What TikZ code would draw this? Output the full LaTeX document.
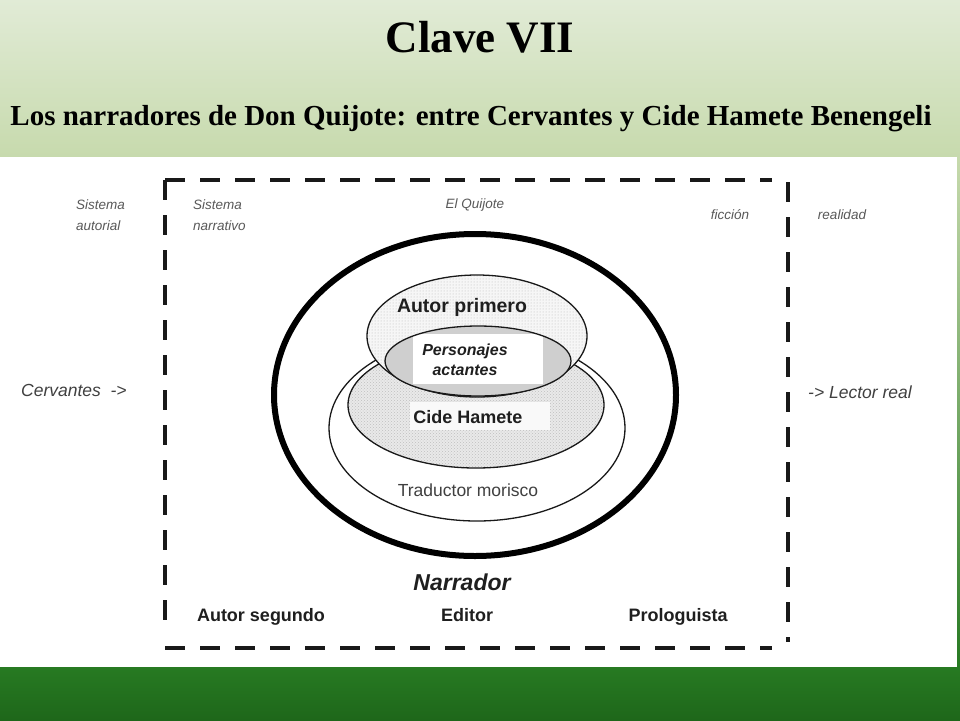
\documentclass[tikz,border=0pt]{standalone}
\usepackage{fontspec}
\setmainfont{Liberation Serif}
\setsansfont{Liberation Sans}
\usetikzlibrary{positioning,patterns}

\begin{document}
\begin{tikzpicture}[x=1pt, y=-1pt,
      font=\sffamily,
      ringline/.style={draw=black!90, line width=1.3pt},
      dashline/.style={draw=black!90, line width=3.5pt, dash pattern=on 20pt off 15pt},
      namelbl/.style={font=\sffamily\bfseries\fontsize{18}{20}\selectfont, text=black!88, inner sep=1pt},
      sidelbl/.style={font=\sffamily\itshape\fontsize{13.5}{21}\selectfont, text=black!65, inner sep=0pt, align=left},
      biglbl/.style={font=\sffamily\itshape\fontsize{17.5}{20}\selectfont, text=black!75, inner sep=0pt},
    ]
    \definecolor{headtop}{RGB}{225,235,214}
    \definecolor{headbot}{RGB}{199,218,173}
    \definecolor{bandtop}{RGB}{39,122,34}
    \definecolor{bandbot}{RGB}{30,103,26}

    \useasboundingbox (0,0) rectangle (960,720);
    \shade[top color=headtop, bottom color=headbot] (0,0) rectangle (960,157);
    \fill[white] (0,157) rectangle (957,667);
    \shade[top color=headbot, bottom color=bandtop] (957,157) rectangle (960,667);
    \shade[top color=bandtop, bottom color=bandbot] (0,667) rectangle (960,720);

    \node[font=\rmfamily\bfseries\fontsize{45}{50}\selectfont] (title) at (480,37) {Clave VII};
    \node[font=\rmfamily\bfseries\fontsize{29}{32}\selectfont] (subtitle) at (471,119)
      {Los narradores de Don Quijote: entre Cervantes y Cide Hamete Benengeli};

    \draw[dashline] (165,180) -- (772,180);
    \draw[dashline] (165,180) -- (165,632);
    \draw[dashline] (788,182) -- (788,642);
    \draw[dashline] (165,648) -- (772,648);

    \draw[draw=black, line width=6pt] (475,395) ellipse [x radius=201pt, y radius=161pt];
    \draw[ringline, fill=white] (477,428) ellipse [x radius=148pt, y radius=93pt];
    \draw[ringline, preaction={fill=gray!17}, pattern=crosshatch dots, pattern color=gray!50]
      (476,405) ellipse [x radius=128pt, y radius=63pt];
    \fill[gray!5] (410,402) rectangle (550,430);
    \draw[ringline, preaction={fill=gray!7}, pattern=dots, pattern color=gray!55]
      (477,336) ellipse [x radius=110pt, y radius=61pt];
    \begin{scope}
      \clip (478,361) ellipse [x radius=93pt, y radius=35pt];
      \fill[gray!38] (380,320) rectangle (580,400);
      \fill[white] (413,334) rectangle (543,384);
    \end{scope}
    \draw[ringline] (478,361) ellipse [x radius=93pt, y radius=35pt];

    \node[namelbl, font=\sffamily\bfseries\fontsize{19.5}{22}\selectfont] (autor1) at (462,307) {Autor primero};
    \node[namelbl, font=\sffamily\bfseries\itshape\fontsize{16}{20}\selectfont, align=center] (pers) at (465,360) {Personajes\\actantes};
    \node[namelbl] (cide) at (468,417) {Cide Hamete};
    \node[font=\sffamily\fontsize{17.5}{20}\selectfont, text=black!75, inner sep=1pt] (trad) at (468,490) {Traductor morisco};
    \node[font=\sffamily\bfseries\itshape\fontsize{23}{26}\selectfont, text=black!88, inner sep=1pt, anchor=base] (narr) at (462,590) {Narrador};

    \node[namelbl, anchor=base] (autor2) at (261,621) {Autor segundo};
    \node[namelbl, anchor=base] (editor) at (467,621) {Editor};
    \node[namelbl, anchor=base] (prolog) at (678,621) {Prologuista};

    \node[sidelbl, anchor=west] (sisaut) at (76,215) {Sistema\\autorial};
    \node[sidelbl, anchor=west] (sisnar) at (193,215) {Sistema\\narrativo};
    \node[sidelbl] (quijote) at (475,205) {El Quijote};
    \node[sidelbl] (ficcion) at (730,215) {ficción};
    \node[sidelbl] (realidad) at (842,215) {realidad};

    \node[biglbl, anchor=west] (cerv) at (21,390) {Cervantes \ ->};
    \node[biglbl, anchor=west] (lector) at (808,392) {-> Lector real};
  \end{tikzpicture}
\end{document}
